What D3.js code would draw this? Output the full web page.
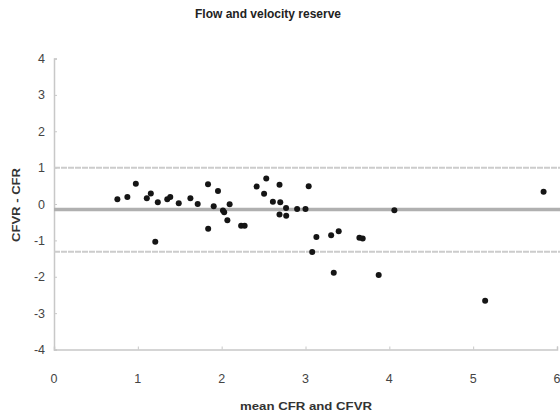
<!DOCTYPE html>
<html>
<head>
<meta charset="utf-8">
<script src="https://cdn.jsdelivr.net/npm/d3@7"></script>
<style>
  html, body { margin: 0; padding: 0; background: #fff; }
  svg { display: block; font-family: "Liberation Sans", Arial, sans-serif; }
</style>
</head>
<body>
<svg id="chart" width="560" height="415"></svg>
<script>
const title = "Flow and velocity reserve";
const xTitle = "mean CFR and CFVR";
const yTitle = "CFVR - CFR";
const xTicks = [0, 1, 2, 3, 4, 5, 6];
const yTicks = [-4, -3, -2, -1, 0, 1, 2, 3, 4];
const meanX = [0.756, 0.875, 0.976, 1.107, 1.155, 1.238, 1.208, 1.351, 1.387, 1.488,
  1.627, 1.714, 1.837, 1.956, 1.905, 2.015, 2.03, 2.095, 2.068, 1.839,
  2.232, 2.274, 2.417, 2.532, 2.506, 2.69, 2.611, 2.699, 2.768, 2.69,
  2.77, 2.9, 3.0, 3.038, 3.13, 3.306, 3.396, 3.643, 3.682, 3.08,
  3.337, 3.873, 4.06, 5.84, 5.143];
const diffY = [0.13, 0.19, 0.56, 0.16, 0.29, 0.05, -1.04, 0.13, 0.19, 0.02,
  0.16, 0.0, 0.54, 0.36, -0.06, -0.18, -0.23, -0.01, -0.45, -0.68,
  -0.6, -0.6, 0.48, 0.70, 0.28, 0.53, 0.06, 0.05, -0.11, -0.29,
  -0.32, -0.14, -0.14, 0.49, -0.91, -0.86, -0.75, -0.93, -0.95, -1.32,
  -1.89, -1.95, -0.17, 0.34, -2.66];
const meanDiff = -0.15;
const upperLimit = 1.0;
const lowerLimit = -1.31;

const svg = d3.select("#chart");
const x = d3.scaleLinear().domain([0, 6]).range([54, 557]);
const y = d3.scaleLinear().domain([-4, 4]).range([349.5, 58.5]);

// title
svg.append("text").attr("x", 268).attr("y", 18).attr("text-anchor", "middle")
  .attr("font-size", 12).attr("font-weight", "bold").attr("fill", "#222")
  .attr("textLength", 146).attr("lengthAdjust", "spacingAndGlyphs").text(title);

// axes lines
const gx = svg.append("g").attr("transform", `translate(0,${y(-4)})`)
  .call(d3.axisTop(x).tickValues(xTicks).tickSize(3).tickFormat(""));
const gy = svg.append("g").attr("transform", `translate(${x(0)},0)`)
  .call(d3.axisRight(y).tickValues(yTicks).tickSize(3).tickFormat(""));
[gx, gy].forEach(g => {
  g.select(".domain").attr("stroke", "#c8c8c8").attr("stroke-width", 1.5);
  g.selectAll(".tick line").attr("stroke", "#c8c8c8");
});

// tick labels
svg.append("g").selectAll("text").data(xTicks).join("text")
  .attr("x", d => x(d)).attr("y", 383).attr("text-anchor", "middle")
  .attr("font-size", 12.5).attr("fill", "#444").text(d => d);
svg.append("g").selectAll("text").data(yTicks).join("text")
  .attr("x", 45).attr("y", d => y(d) + 4.5).attr("text-anchor", "end")
  .attr("font-size", 12.5).attr("fill", "#444").text(d => d);

// axis titles
svg.append("text").attr("x", 306).attr("y", 410).attr("text-anchor", "middle")
  .attr("font-size", 11).attr("font-weight", "bold").attr("fill", "#333")
  .attr("textLength", 132).attr("lengthAdjust", "spacingAndGlyphs").text(xTitle);
svg.append("text").attr("transform", `translate(20,${205}) rotate(-90)`)
  .attr("text-anchor", "middle").attr("font-size", 10).attr("font-weight", "bold")
  .attr("fill", "#333").attr("textLength", 74).attr("lengthAdjust", "spacingAndGlyphs").text(yTitle);

// reference lines
[upperLimit, lowerLimit].forEach(v => {
  svg.append("line").attr("x1", x(0)).attr("x2", 560).attr("y1", y(v)).attr("y2", y(v))
    .attr("stroke", "#cccccc").attr("stroke-width", 2).attr("stroke-dasharray", "6,1");
});
svg.append("line").attr("x1", x(0)).attr("x2", 560).attr("y1", y(meanDiff)).attr("y2", y(meanDiff))
  .attr("stroke", "#b0b0b0").attr("stroke-width", 3.5);

// points
svg.append("g").selectAll("circle").data(meanX.map((v, i) => [v, diffY[i]])).join("circle")
  .attr("cx", d => x(d[0])).attr("cy", d => y(d[1])).attr("r", 3).attr("fill", "#151515");
</script>
</body>
</html>
